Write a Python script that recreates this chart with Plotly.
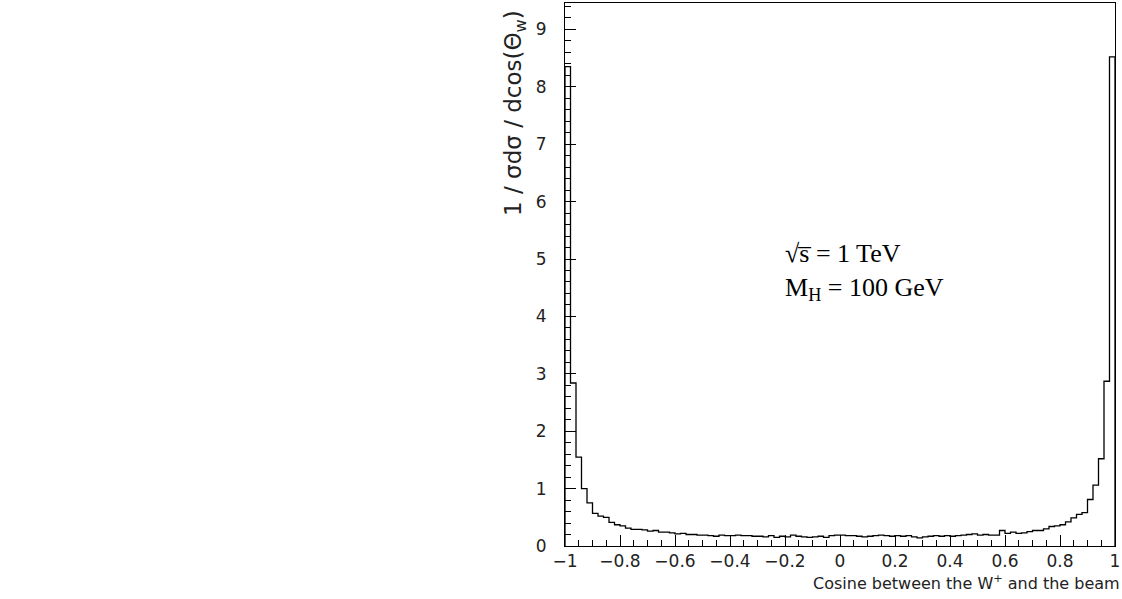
import plotly.graph_objects as go

# Histogram: 100 bins of width 0.02 on [-1, 1]
bin_low = -1.0
bin_width = 0.02
values = [
    8.35, 2.84, 1.55, 1.00, 0.75, 0.57, 0.52, 0.50, 0.41, 0.37,
    0.35, 0.31, 0.29, 0.29, 0.28, 0.26, 0.27, 0.24, 0.24, 0.23,
    0.21, 0.22, 0.20, 0.20, 0.19, 0.19, 0.18, 0.17, 0.19, 0.18,
    0.18, 0.19, 0.18, 0.18, 0.17, 0.17, 0.16, 0.18, 0.15, 0.17,
    0.16, 0.19, 0.17, 0.16, 0.15, 0.16, 0.17, 0.15, 0.18, 0.19,
    0.19, 0.18, 0.18, 0.17, 0.16, 0.17, 0.18, 0.19, 0.18, 0.17,
    0.18, 0.17, 0.18, 0.16, 0.14, 0.16, 0.17, 0.18, 0.17, 0.18,
    0.17, 0.18, 0.19, 0.20, 0.21, 0.19, 0.20, 0.19, 0.19, 0.27,
    0.22, 0.24, 0.22, 0.23, 0.25, 0.27, 0.27, 0.30, 0.34, 0.35,
    0.37, 0.42, 0.49, 0.55, 0.58, 0.81, 1.06, 1.52, 2.87, 8.52,
]
x_ticks = [-1, -0.8, -0.6, -0.4, -0.2, 0, 0.2, 0.4, 0.6, 0.8, 1]
x_tick_labels = ["\u22121", "\u22120.8", "\u22120.6", "\u22120.4", "\u22120.2", "0",
                 "0.2", "0.4", "0.6", "0.8", "1"]
y_ticks = [0, 1, 2, 3, 4, 5, 6, 7, 8, 9]

n = len(values)
edges = [bin_low + bin_width * k for k in range(n + 1)]
xs = [edges[0]] + edges + [edges[-1]]
ys = [0] + values + [values[-1], 0]

fig = go.Figure()
fig.add_trace(go.Scatter(x=xs, y=ys, mode="lines", line=dict(color="black", width=1.3, shape="hv"),
                         hoverinfo="skip", showlegend=False))

sans = "DejaVu Sans, Verdana, sans-serif"
tick_font = dict(family=sans, size=17, color="#222")

fig.update_layout(
    width=1122, height=599,
    margin=dict(l=565, r=2, t=2, b=53),
    paper_bgcolor="white", plot_bgcolor="white",
    showlegend=False,
    xaxis=dict(range=[-1, 1], tickvals=x_ticks, ticktext=x_tick_labels,
               ticks="inside", ticklen=11, tickwidth=1, tickcolor="black",
               minor=dict(ticks="inside", dtick=0.05, ticklen=6, tickcolor="black", showgrid=False),
               showline=True, linecolor="black", linewidth=1, mirror=True,
               showgrid=False, zeroline=False, tickfont=tick_font, ticklabeloverflow="allow"),
    yaxis=dict(range=[0, 9.46], tickvals=y_ticks,
               ticks="inside", ticklen=11, tickwidth=1, tickcolor="black",
               minor=dict(ticks="inside", dtick=0.2, ticklen=6, tickcolor="black", showgrid=False),
               showline=True, linecolor="black", linewidth=1, mirror=True,
               showgrid=False, zeroline=False, tickfont=tick_font, ticklabelstandoff=14),
)

fig.add_annotation(text="1 / \u03c3d\u03c3 / dcos(\u0398<sub>w</sub>)", textangle=-90,
                   xref="paper", yref="paper", x=-0.09, y=0.99, xanchor="center", yanchor="top",
                   showarrow=False, font=dict(family=sans, size=23, color="#222"))
fig.add_annotation(text="Cosine between the W<sup>+</sup> and the beam",
                   xref="paper", yref="paper", x=1.012, y=-0.068, xanchor="right", yanchor="middle",
                   showarrow=False, font=dict(family=sans, size=16, color="#222"))
fig.add_annotation(text="\u221as\u0305 = 1 TeV<br>M<sub>H</sub> = 100 GeV", align="left",
                   xref="paper", yref="paper", x=(785 - 565) / 555, y=(546 - 236) / 544,
                   xanchor="left", yanchor="top",
                   showarrow=False, font=dict(family="Liberation Serif, Times New Roman, serif", size=26, color="black"))

fig.write_html("out.html")
